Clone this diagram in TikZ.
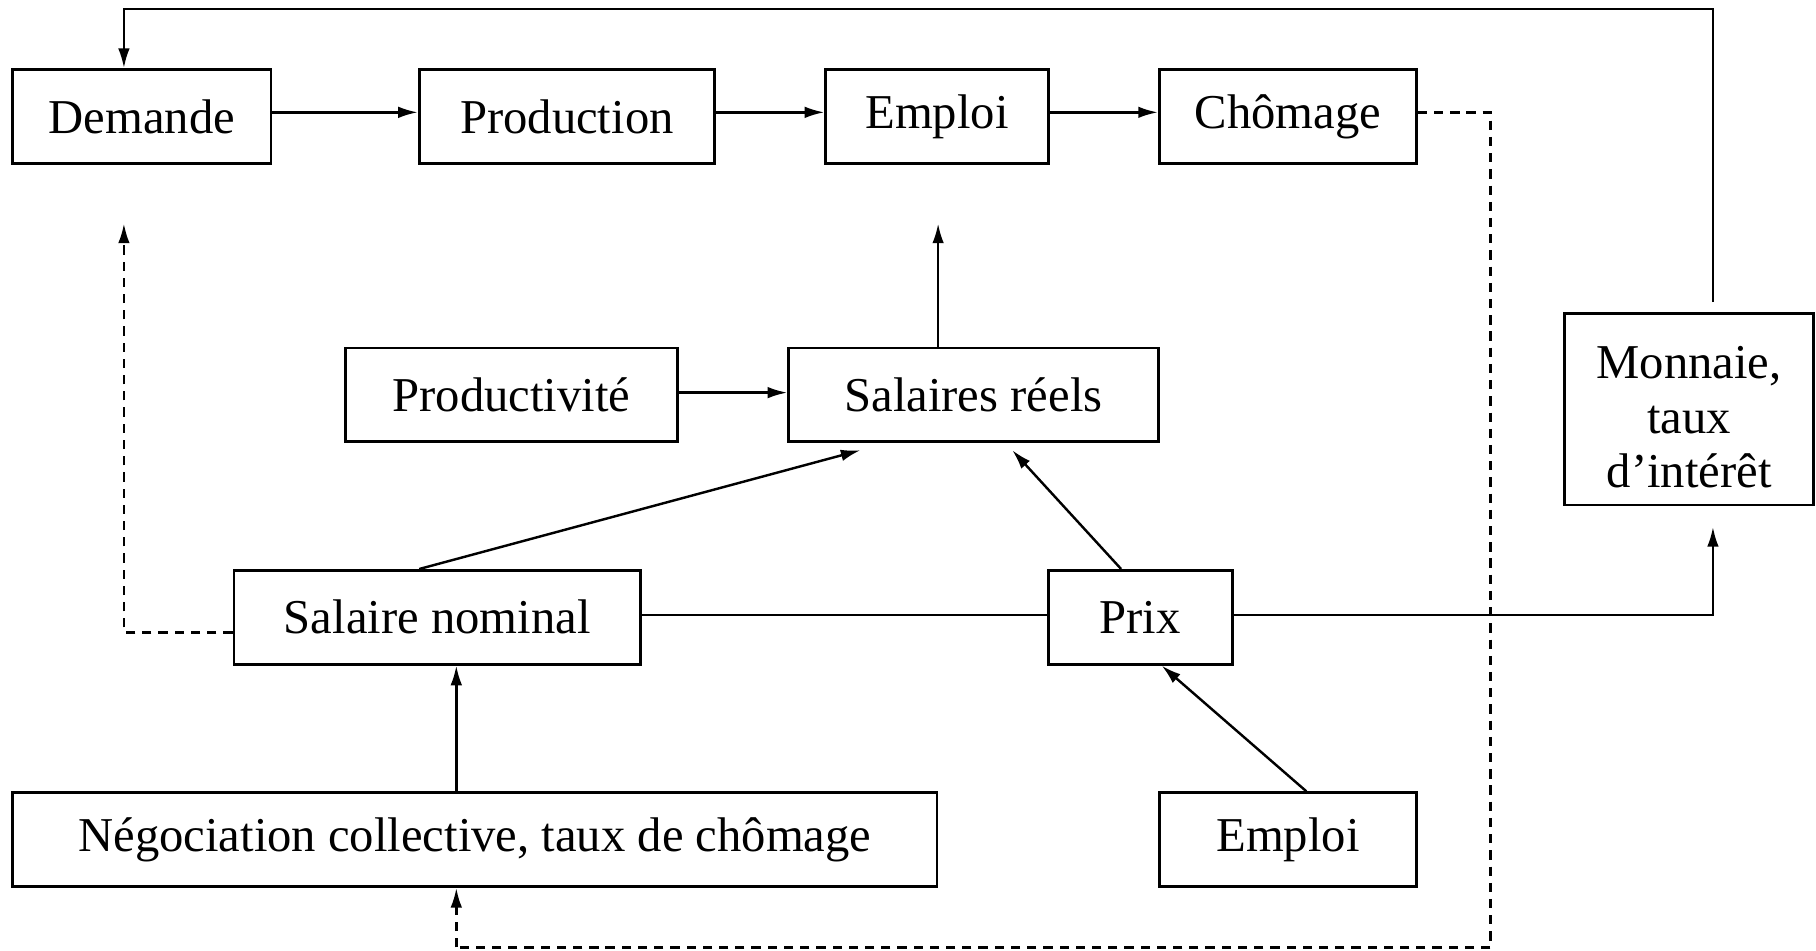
\documentclass[tikz,border=0pt]{standalone}
\usepackage{fontspec}
\setmainfont{Liberation Serif}
\usetikzlibrary{arrows.meta,calc}
\begin{document}
\begin{tikzpicture}[x=1pt,y=-1pt,
  box/.style={draw,line width=2.4pt,rectangle,inner sep=0pt,minimum height=81pt,
    font=\fontsize{42}{47}\selectfont},
  link/.style={line width=2.1pt},
  tip/.style={-{Latex[length=17pt,width=10pt]}},
  arr/.style={link,tip},
  dashlink/.style={link,dash pattern=on 8pt off 6pt}
]
\useasboundingbox (0,0) rectangle (1568,821);

% top row
\node[box,minimum width=223pt] (dem)  at (122.5,100.5) {Demande};
\node[box,minimum width=255pt] (prod) at (489.5,100.5) {Production};
\node[box,minimum width=192pt] (emp)  at (809,100.5)   {Emploi};
\node[box,minimum width=222pt] (cho)  at (1112,100.5)  {Chômage};

% middle rows
\node[box,minimum width=287pt] (pdv) at (441.5,341) {Productivité};
\node[box,minimum width=319pt] (sr)  at (840.5,341) {Salaires réels};
\node[box,minimum width=215pt,minimum height=165pt] (mon) at (1458.5,353.5) {};
\node[font=\fontsize{42}{47}\selectfont,align=center,inner sep=0pt] (montxt)
  at ([yshift=-7pt]mon.center) {Monnaie,\\taux\\d’intérêt};
\node[box,minimum width=351pt] (sn)   at (377.5,533) {Salaire nominal};
\node[box,minimum width=159pt] (prix) at (984.5,533) {Prix};

% bottom row
\node[box,minimum width=798pt] (neg) at (410,725)  {Négociation collective, taux de chômage};
\node[box,minimum width=222pt] (emb) at (1112,725) {Emploi};

% free ends and corners
\coordinate (tl) at (107,8);
\coordinate (tr) at (1479,8);
\coordinate (dr) at (1287,818);
\coordinate (dl) at (394,818);
\coordinate (demtip) at (107,193);
\coordinate (emptip) at (810,193);
\coordinate (montip) at (1479,455);

% main chain
\draw[arr] ([yshift=3.5pt]dem.east)  -- ([yshift=3.5pt]prod.west);
\draw[arr] ([yshift=3.5pt]prod.east) -- ([yshift=3.5pt]emp.west);
\draw[arr] ([yshift=3.5pt]emp.east)  -- ([yshift=3.5pt]cho.west);

% money feedback to demand
\draw[arr] ([xshift=20.5pt,yshift=9pt]mon.north) -- (tr) -- (tl) -- (dem.north -| tl);

% unemployment feeds back into bargaining
\draw[dashlink] ([yshift=3.5pt]cho.east) -| (dr) -- (dl);
\draw[dashlink,tip] (dl) -- (neg.south -| dl);

% nominal wage feeds demand
\draw[dashlink,tip] ([yshift=-13pt]sn.west) -| (demtip);

% real wages
\draw[arr] ([xshift=-30.5pt]sr.north) -- (emptip);
\draw[arr] ([yshift=2pt]pdv.east) -- ([yshift=2pt]sr.west);
\draw[arr] ([xshift=-15.5pt]sn.north) -- ([xshift=-97.5pt,yshift=-6pt]sr.south);
\draw[arr] ([xshift=-16.5pt]prix.north) -- ([xshift=33.5pt,yshift=-6pt]sr.south);

% wages and prices
\draw[link] ([yshift=2pt]sn.east) -- ([yshift=2pt]prix.west);
\draw[arr] ([yshift=2pt]prix.east) -| (montip);
\draw[arr] ([xshift=-16pt]neg.north) -- ([xshift=-16pt]neg.north |- sn.south);
\draw[arr] ([xshift=16pt]emb.north) -- ([xshift=18.5pt]prix.south);
\end{tikzpicture}
\end{document}
